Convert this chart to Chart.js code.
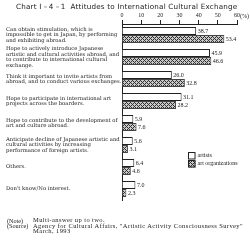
<!DOCTYPE html>
<html>
<head>
<meta charset="utf-8">
<script src="https://cdn.jsdelivr.net/npm/chart.js@4"></script>
<style>
html, body { margin: 0; padding: 0; background: #fff; }
#wrap { position: relative; width: 250px; height: 240px; overflow: hidden; }
canvas { position: absolute; left: 0; top: 0; }
.txt { position: absolute; white-space: pre; color: #222; }
#title { left: 16px; top: 2px; font: 7.2px "DejaVu Sans", sans-serif; letter-spacing: 0.2px; }
.note { font: 6.2px "Liberation Serif", serif; }
.wide { font-size: 6.5px; letter-spacing: 0.4px; }
</style>
</head>
<body>
<div id="wrap">
  <canvas id="chart" width="250" height="240"></canvas>
  <div class="txt" id="title">Chart Ⅰ－4－1  Attitudes to International Cultural Exchange</div>
  <div class="txt note" style="top:216.5px; left:7px">(Note)</div>
  <div class="txt note wide" style="top:216px; left:33px">Multi-answer up to two.</div>
  <div class="txt note" style="top:222px; left:7px">(Source)</div>
  <div class="txt note wide" style="top:221.5px; left:33px">Agency for Cultural Affairs, "Artistic Activity Consciousness Survey"</div>
  <div class="txt note wide" style="top:227px; left:33px">March, 1993</div>
</div>
<script>
const categories = [
    ['Can obtain stimulation, which is', 'impossible to get in Japan, by performing', 'and exhibiting abroad.'],
    ['Hope to actively introduce Japanese', 'artistic and cultural activities abroad, and', 'to contribute to international cultural', 'exchange.'],
    ['Think it important to invite artists from', 'abroad, and to conduct various exchanges.'],
    ['Hope to participate in international art', 'projects across the boarders.'],
    ['Hope to contribute to the development of', 'art and culture abroad.'],
    ['Anticipate decline of Japanese artistic and', 'cultural activities by increasing', 'performance of foreign artists.'],
    ['Others.'],
    ["Don't know/No interest."]
];
const artists = [38.7, 45.9, 26.0, 31.1, 5.9, 5.6, 6.4, 7.0];
const artOrganizations = [53.4, 46.6, 32.8, 28.2, 7.6, 3.1, 4.6, 2.3];
const seriesNames = ['artists', 'art organizations'];
const xMax = 60;
const xStep = 10;

const ink = '#222';

// crosshatch fill for the second series
function makeHatch() {
    const c = document.createElement('canvas');
    c.width = 4; c.height = 4;
    const g = c.getContext('2d');
    g.fillStyle = '#c8c8c8';
    g.fillRect(0, 0, 4, 4);
    g.fillStyle = '#333';
    for (let x = 0; x < 4; x++) {
        for (let y = 0; y < 4; y++) {
            if ((x + y) % 4 === 0 || ((x - y) + 4) % 4 === 0) g.fillRect(x, y, 1, 1);
        }
    }
    return g.createPattern(c, 'repeat');
}
const hatch = makeHatch();

// numbers at the end of each bar
const valueLabels = {
    id: 'valueLabels',
    afterDatasetsDraw(chart) {
        const ctx = chart.ctx;
        ctx.save();
        ctx.font = '6px "Liberation Serif", serif';
        ctx.fillStyle = ink;
        ctx.textBaseline = 'middle';
        chart.data.datasets.forEach((ds, i) => {
            chart.getDatasetMeta(i).data.forEach((bar, j) => {
                ctx.fillText(ds.data[j].toFixed(1), bar.x + 1.5, bar.y);
            });
        });
        ctx.restore();
    }
};

// "(%)" after the last tick, and the legend inside the plot
const extras = {
    id: 'extras',
    afterDraw(chart) {
        const ctx = chart.ctx;
        const xs = chart.scales.x;
        const area = chart.chartArea;
        ctx.save();
        ctx.font = '6px "Liberation Serif", serif';
        ctx.fillStyle = ink;
        ctx.textBaseline = 'middle';
        const px = xs.getPixelForValue(xMax);
        ctx.fillText('(%)', px + ctx.measureText(String(xMax)).width / 2, area.top - 8);

        // legend
        const lx = area.left + 66, ly = area.top + 128, s = 7.5;
        [0, 1].forEach(i => {
            const ds = chart.data.datasets[i];
            const y = ly + i * 8;
            ctx.fillStyle = ds.backgroundColor;
            ctx.fillRect(lx, y, s, s);
            ctx.strokeStyle = ink;
            ctx.lineWidth = 1;
            ctx.strokeRect(lx + 0.5, y + 0.5, s - 1, s - 1);
            ctx.fillStyle = ink;
            ctx.fillText(seriesNames[i], lx + s + 2, y + s / 2);
        });
        ctx.restore();
    }
};

const ctx = document.getElementById('chart').getContext('2d');
new Chart(ctx, {
    type: 'bar',
    data: {
        labels: categories,
        datasets: [
            {
                label: seriesNames[0],
                data: artists,
                backgroundColor: '#fff',
                borderColor: ink,
                borderWidth: 1,
                categoryPercentage: 0.72,
                barPercentage: 1
            },
            {
                label: seriesNames[1],
                data: artOrganizations,
                backgroundColor: hatch,
                borderColor: '#444',
                borderWidth: 1,
                categoryPercentage: 0.72,
                barPercentage: 1
            }
        ]
    },
    options: {
        indexAxis: 'y',
        responsive: false,
        animation: false,
        layout: { padding: { left: 6, top: 10, right: 13, bottom: 40 } },
        plugins: {
            legend: { display: false },
            tooltip: { enabled: false }
        },
        scales: {
            x: {
                position: 'top',
                min: 0,
                max: xMax,
                ticks: {
                    stepSize: xStep,
                    color: ink,
                    padding: 1,
                    font: { family: '"Liberation Serif", serif', size: 6 }
                },
                grid: { drawOnChartArea: false, tickLength: 4, color: ink },
                border: { color: ink, width: 1 },
                afterFit(scale) { scale.height = 14; }
            },
            y: {
                grid: { display: false },
                border: { color: ink, width: 1 },
                ticks: {
                    color: ink,
                    autoSkip: false,
                    crossAlign: 'far',
                    padding: 0,
                    font: { family: '"DejaVu Serif", serif', size: 5.3, lineHeight: 1.05 }
                },
                afterFit(scale) { scale.width = 116; }
            }
        }
    },
    plugins: [valueLabels, extras]
});
</script>
</body>
</html>
